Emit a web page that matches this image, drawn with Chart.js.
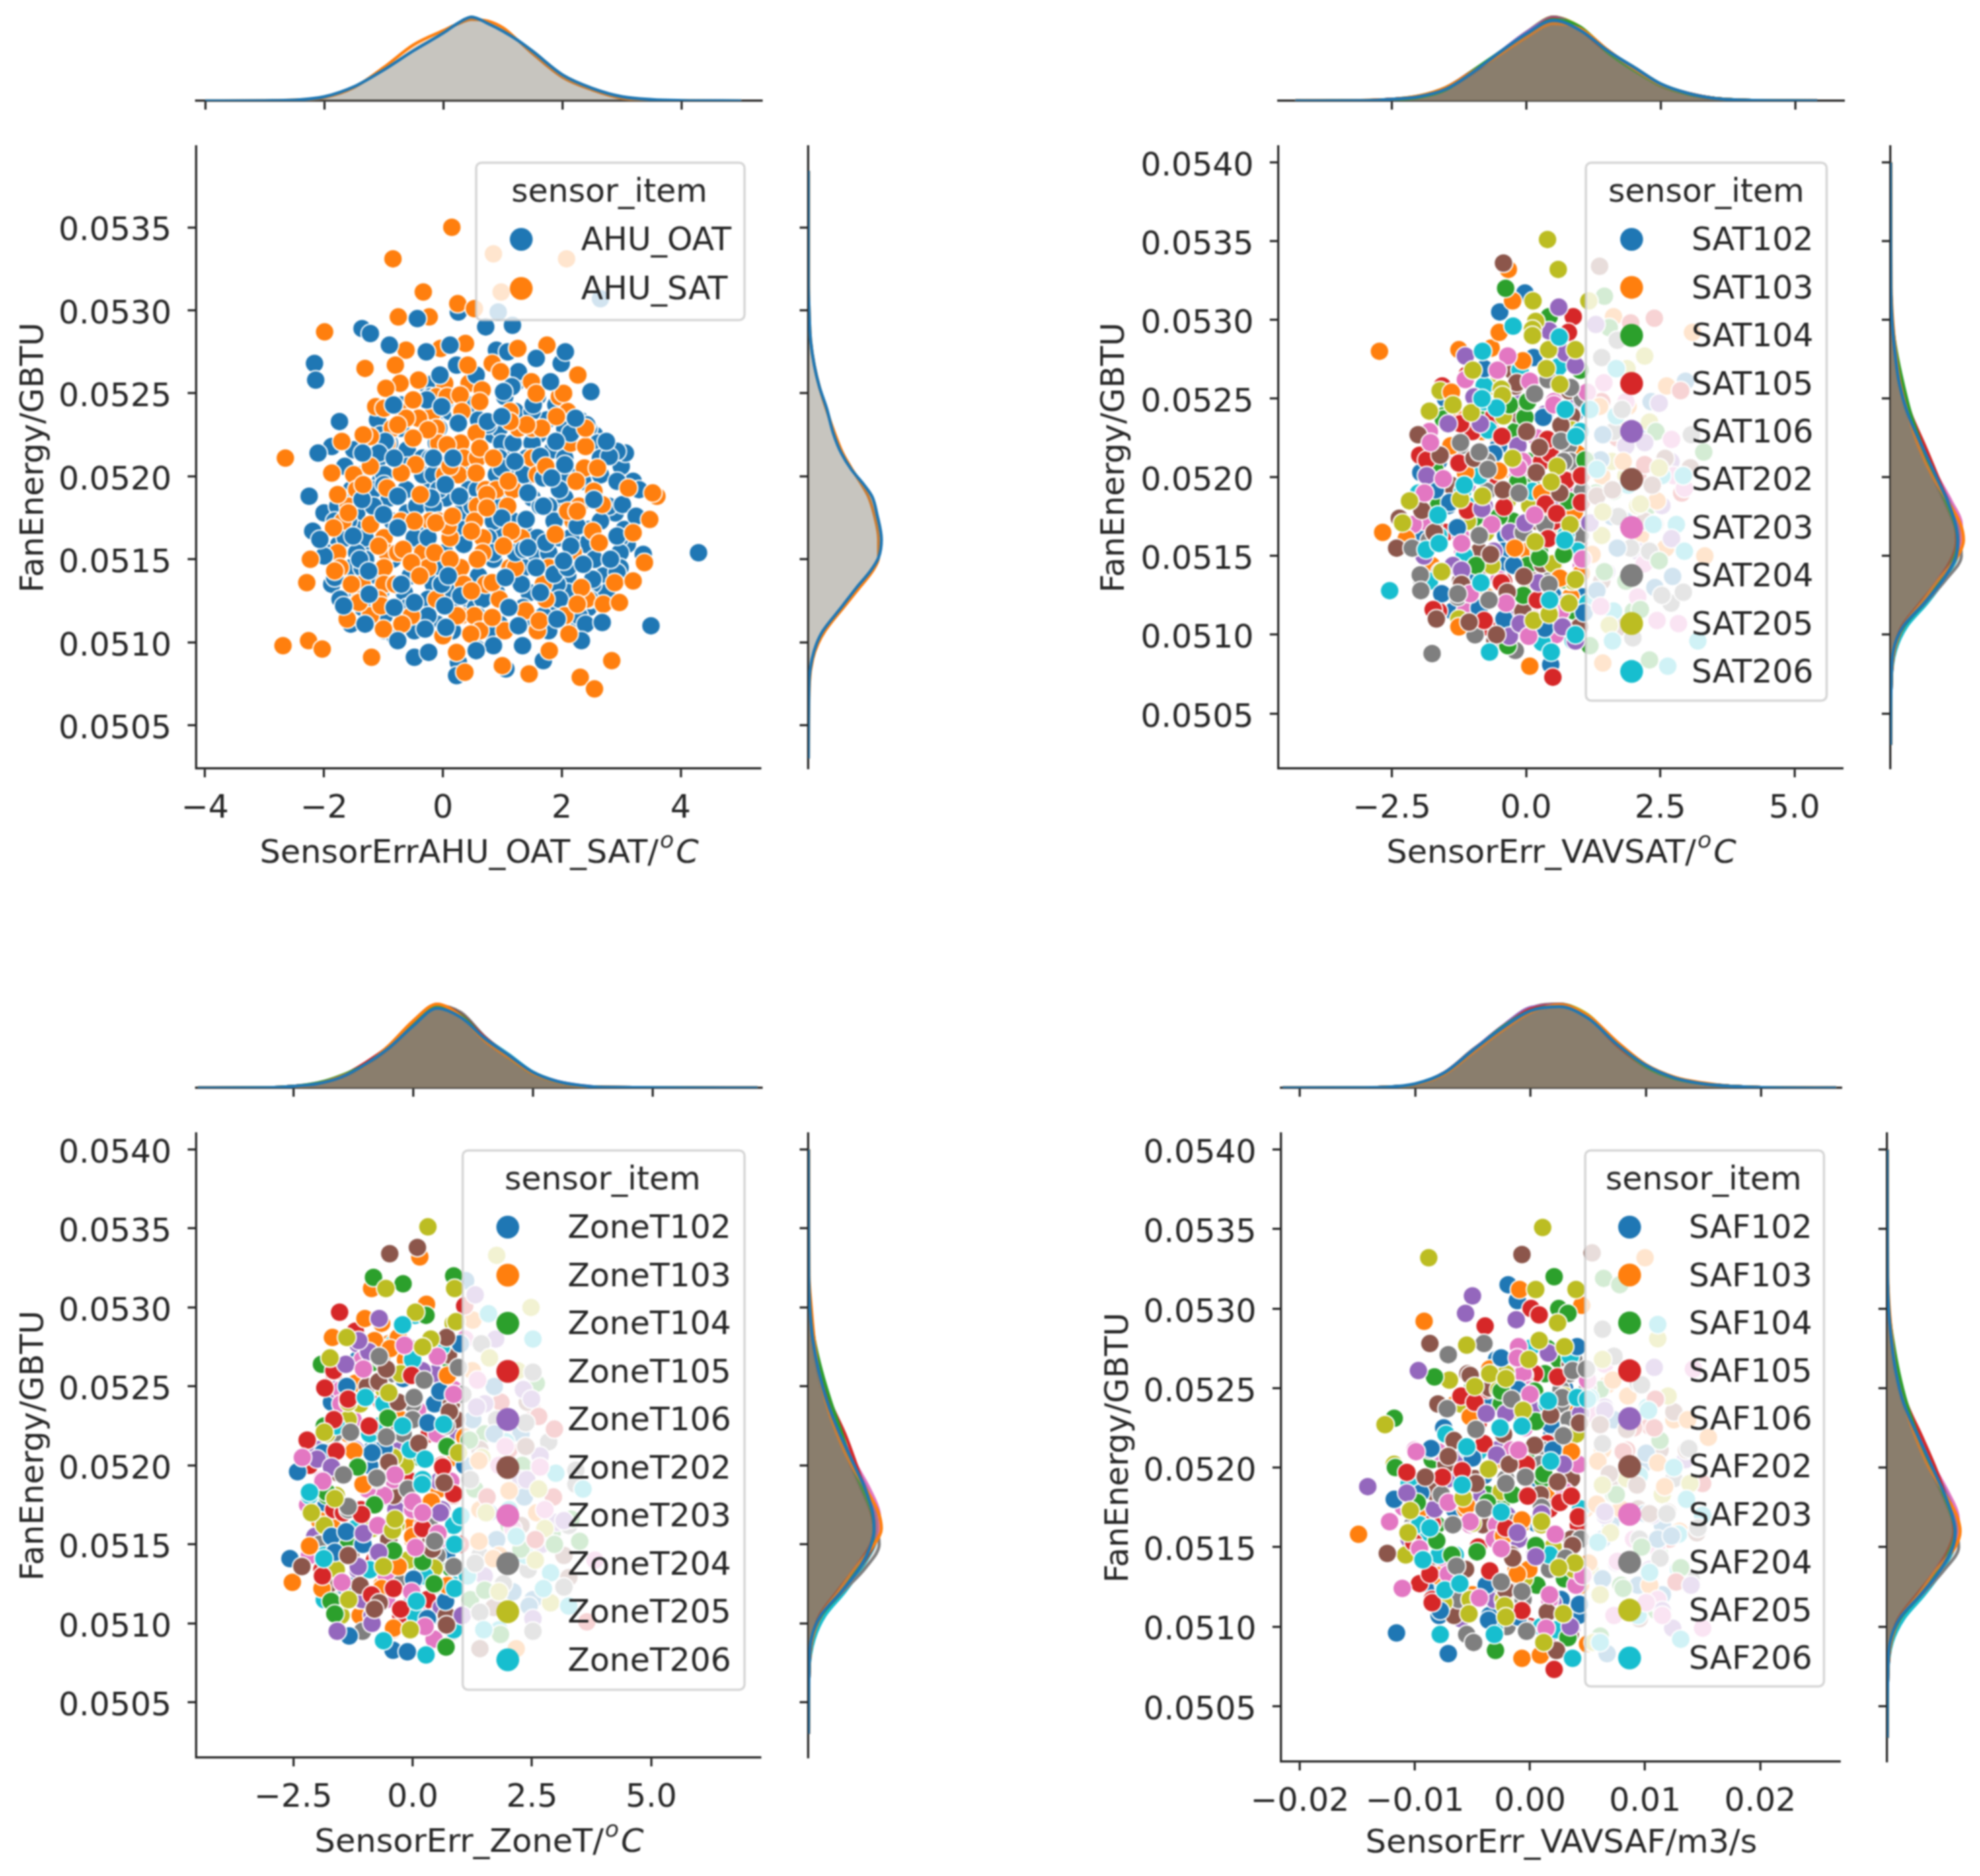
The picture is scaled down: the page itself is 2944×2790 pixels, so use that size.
<!DOCTYPE html>
<html>
<head>
<meta charset="utf-8">
<script src="https://cdn.jsdelivr.net/npm/chart.js@4/dist/chart.umd.min.js"></script>
<style>
  html, body { margin: 0; padding: 0; background: #fff; }
  body { position: relative; width: 2944px; height: 2790px; overflow: hidden; }
  canvas { position: absolute; filter: blur(1.1px); }
</style>
</head>
<body>
<script>
// all FanEnergy values below are in 1e-5 GBTU
const colors = ['#1f77b4', '#ff7f0e', '#2ca02c', '#d62728', '#9467bd', '#8c564b', '#e377c2', '#7f7f7f', '#bcbd22', '#17becf'];
const yTicks = [0.0505, 0.051, 0.0515, 0.052, 0.0525, 0.053, 0.0535, 0.054];

const xTicks1 = [-4, -2, 0, 2, 4];
const xLabels1 = ['−4', '−2', '0', '2', '4'];
const xTicks2 = [-2.5, 0, 2.5, 5];
const xLabels2 = ['−2.5', '0.0', '2.5', '5.0'];
const xTicks3 = [-2.5, 0, 2.5, 5];
const xLabels3 = ['−2.5', '0.0', '2.5', '5.0'];
const xTicks4 = [-0.02, -0.01, 0, 0.01, 0.02];
const xLabels4 = ['−0.02', '−0.01', '0.00', '0.01', '0.02'];

// panel 1, drawn in layers so the two colours interleave
const AHU_OAT_back = [[.26,5299],[-1.36,5289],[.9,5276],[1.09,5275],[.23,5267],[1.99,5268],[1.27,5263],[.56,5261],[-.27,5246],[1.16,5254],[1.52,5243],[.76,5231],[2.42,5231],[2.15,5226],[-.97,5221],[-1.87,5218],[3.07,5214],[2.93,5215],[2.8,5212],[-1.08,5214],[-.16,5211],[.99,5205],[2.05,5207],[1.64,5212],[1.69,5199],[2.93,5197],[3.3,5192],[-1.36,5186],[-.2,5187],[3.02,5183],[-2.19,5167],[1.69,5182],[3.25,5176],[.99,5175],[-.25,5163],[-1.4,5150],[-2,5152],[1.73,5160],[2.15,5158],[2.26,5170],[2.93,5164],[3.37,5153],[2.93,5142],[-.02,5135],[-1.82,5139],[1.22,5154],[1.87,5141],[2.52,5138],[2.1,5145],[2.4,5111],[2.33,5101],[-.48,5091],[.26,5088],[.58,5096],[1.69,5089],[.23,5080],[-.8,5103],[1.06,5084],[.85,5098],[.3,5128],[1.36,5156],[-.99,5195]];
const AHU_SAT = [[.15,5350],[-.84,5331],[-.33,5311],[.25,5304],[.53,5301],[-.75,5296],[-.23,5296],[-1.99,5287],[-.62,5276],[.38,5280],[-.04,5277],[1.26,5277],[1.75,5279],[-.8,5267],[-1.31,5265],[.42,5267],[.83,5268],[.97,5263],[2.27,5261],[-.41,5258],[-.72,5256],[-.96,5253],[-.5,5246],[1.49,5257],[1.57,5250],[2.03,5250],[.66,5252],[.29,5249],[.62,5245],[-1.13,5242],[-.99,5241],[.32,5239],[-.41,5235],[-.62,5235],[-.25,5228],[-.76,5231],[1.91,5236],[1.66,5229],[1.41,5231],[1.13,5233],[.56,5226],[-.5,5223],[-1.22,5224],[-1.34,5225],[-1.7,5221],[.07,5219],[.62,5217],[2.4,5218],[2.4,5229],[-2.65,5211],[-.46,5207],[-1.22,5206],[.85,5211],[.12,5206],[.56,5202],[1.73,5206],[2.38,5205],[2.6,5205],[-.7,5202],[-1.87,5202],[-1.34,5195],[1.1,5197],[-.94,5193],[-1.77,5189],[-.38,5189],[2.24,5197],[2.54,5191],[3.12,5193],[3.6,5188],[3.53,5190],[.74,5189],[.74,5181],[2.1,5179],[2.26,5179],[2.68,5183],[3.48,5174],[-1.59,5178],[-.48,5173],[.09,5170],[-.12,5172],[.16,5176],[-1.22,5171],[-1.84,5169],[.48,5167],[1.15,5167],[1.89,5165],[3.2,5166],[2.52,5167],[2.63,5160],[1.02,5158],[-1.08,5158],[-.67,5156],[-.14,5154],[-.53,5148],[-2.23,5150],[-1.82,5143],[.12,5150],[.58,5150],[3.39,5148],[-1.54,5135],[-2.29,5136],[-.39,5140],[.83,5136],[.48,5131],[2.33,5133],[2.89,5136],[3.2,5137],[2.26,5123],[2.7,5123],[2.97,5124],[1.39,5119],[-1.04,5122],[-1.41,5124],[.83,5115],[1.62,5113],[.24,5116],[-1.61,5114],[-1,5108],[-.69,5111],[.47,5105],[2.12,5105],[-2.69,5098],[-2.26,5101],[-2.03,5096],[-1.2,5091],[.23,5094],[1.79,5095],[1,5086],[.37,5082],[1.45,5081],[2.84,5089],[2.31,5079],[2.55,5072],[.85,5334],[2.08,5331],[.98,5311],[0,5104]];
const AHU_OAT_front = [[2.65,5307],[.93,5299],[-.43,5295],[.72,5290],[1.17,5291],[-1.22,5286],[-.9,5279],[-.28,5275],[.12,5279],[2.06,5275],[1.57,5271],[-2.16,5268],[-2.14,5258],[-.05,5261],[1.81,5257],[2.49,5251],[1.02,5251],[-.83,5243],[-.02,5242],[-1.74,5233],[.26,5232],[.75,5233],[.99,5236],[2.23,5235],[1.9,5221],[2.75,5221],[-2.1,5214],[-1.35,5214],[-.82,5211],[.17,5211],[1.21,5209],[1.83,5199],[.04,5195],[-2.25,5188],[-.76,5188],[.28,5188],[1.43,5190],[2.54,5186],[-1,5177],[1.4,5174],[-.76,5169],[-2.07,5162],[-1.51,5164],[1.43,5157],[2.03,5149],[2.82,5150],[-1.25,5143],[1.57,5145],[2.36,5147],[1.05,5139],[.09,5140],[-.7,5135],[-1.24,5129],[1.64,5130],[-.48,5124],[-1.67,5122],[-.82,5121],[.03,5122],[1.11,5121],[-1.31,5111],[-.3,5108],[.05,5109],[1.27,5110],[1.92,5114],[2.68,5112],[3.5,5110],[1.34,5098],[-.76,5101],[.56,5095],[-.24,5094],[4.3,5154]];
const AHU_OAT_under = [[-.3,5256],[-.16,5256],[.49,5256],[1.22,5256],[-.21,5248],[1.04,5248],[1.59,5248],[.12,5239],[1.22,5239],[1.5,5239],[-.71,5229],[-.07,5229],[.95,5229],[2.05,5229],[2.45,5229],[-.9,5220],[-.11,5220],[.99,5220],[1.18,5220],[1.5,5220],[2.15,5220],[2.61,5220],[-1.08,5211],[-.34,5211],[-.21,5211],[.95,5211],[1.41,5211],[2.05,5211],[2.65,5211],[-1.4,5201],[-.99,5201],[-.34,5201],[-.16,5201],[.9,5201],[1.36,5201],[2.1,5201],[2.65,5201],[-1.54,5192],[-1.17,5192],[-.62,5192],[-.07,5192],[.44,5192],[.58,5192],[1.96,5192],[-1.77,5182],[-1.17,5182],[-.44,5182],[-.16,5182],[.49,5182],[.9,5182],[1.64,5182],[1.78,5182],[2.79,5182],[-1.82,5173],[-1.59,5173],[-.85,5173],[.85,5173],[1.18,5173],[1.87,5173],[2.65,5173],[-1.64,5163],[-1.31,5163],[-.48,5163],[.12,5163],[.76,5163],[1.59,5163],[1.96,5163],[2.15,5163],[2.98,5163],[-1.96,5154],[-1.45,5154],[-.9,5154],[.03,5154],[.85,5154],[1.22,5154],[1.5,5154],[1.78,5154],[2.98,5154],[-1.54,5145],[-1.36,5145],[-.07,5145],[.21,5145],[1.36,5145],[1.87,5145],[2.1,5145],[2.98,5145],[-1.87,5135],[-.16,5135],[-.02,5135],[1.32,5135],[1.92,5135],[2.52,5135],[-1.73,5126],[-.25,5126],[.67,5126],[1.96,5126],[2.47,5126],[-.99,5116],[-.25,5116],[.58,5116],[1.69,5116],[2.29,5116],[-.99,5107],[-.48,5107],[.16,5107],[.76,5107],[1.78,5107]];
const AHU_SAT_under = [[.03,5256],[.44,5256],[-.11,5248],[.07,5248],[1.96,5248],[-.67,5239],[-.16,5239],[.3,5239],[1.13,5239],[2.1,5239],[-.85,5229],[-.11,5229],[1.27,5229],[1.5,5229],[-.94,5220],[-.07,5220],[.3,5220],[2.15,5220],[.35,5211],[.58,5211],[1.5,5211],[-1.5,5201],[.03,5201],[.26,5201],[1.59,5201],[-1.45,5192],[.72,5192],[.9,5192],[1.18,5192],[-1.59,5182],[.58,5182],[1.09,5182],[2.29,5182],[-1.68,5173],[-.71,5173],[-.21,5173],[-.07,5173],[.53,5173],[2.19,5173],[-.99,5163],[.12,5163],[.67,5163],[1.32,5163],[-1.77,5154],[-.94,5154],[-.76,5154],[-.34,5154],[.67,5154],[2.19,5154],[-1.73,5145],[-.99,5145],[-.25,5145],[.3,5145],[1.13,5145],[1.22,5145],[1.78,5145],[-1.36,5135],[-.99,5135],[-.8,5135],[.35,5135],[.72,5135],[1.69,5135],[-1.4,5126],[-1.08,5126],[-.11,5126],[.95,5126],[1.73,5126],[2.42,5126],[-1.22,5116],[-.53,5116],[.3,5116],[.53,5116],[2.05,5116],[.03,5107],[.62,5107],[1.04,5107],[1.59,5107]];
const AHU_OAT_hidden = [[-.7,5243],[.5,5243],[1.9,5243],[-1.1,5234],[-.1,5234],[.6,5234],[1.75,5234],[2.3,5234],[-1.05,5225],[-.1,5225],[.85,5225],[1.6,5225],[2.55,5225],[-1.5,5216],[-.6,5216],[.3,5216],[1.05,5216],[1.85,5216],[-1.65,5206],[-.6,5206],[.3,5206],[1.1,5206],[1.45,5206],[3,5206],[-1.05,5197],[-.2,5197],[.5,5197],[1.35,5197],[2.35,5197],[3.2,5197],[-1.55,5187],[-.9,5187],[.05,5187],[.9,5187],[1.5,5187],[2.05,5187],[-2,5178],[-1.45,5178],[-.6,5178],[.3,5178],[1.05,5178],[2,5178],[2.9,5178],[-1.45,5168],[-.3,5168],[.35,5168],[.95,5168],[1.35,5168],[2.45,5168],[3.05,5168],[-1.75,5159],[-1.25,5159],[-.4,5159],[.35,5159],[1.1,5159],[2.4,5159],[3.1,5159],[-1.3,5150],[-.85,5150],[-.25,5150],[.85,5150],[1.7,5150],[2.55,5150],[-1.55,5140],[-1.1,5140],[-.55,5140],[.6,5140],[1.25,5140],[2.1,5140],[2.7,5140],[-1.5,5130],[-1.05,5130],[-.65,5130],[.1,5130],[.9,5130],[1.45,5130],[2.1,5130],[2.75,5130],[-1.35,5121],[-.6,5121],[.3,5121],[.55,5121],[1.35,5121],[1.8,5121],[2.45,5121],[-1.55,5111],[-.55,5111],[-.1,5111],[.95,5111],[1.5,5111],[2.1,5111]];

// panel 2
const SAT102 = [[-.02,5317],[-.49,5305],[.14,5276],[.32,5238],[-1.96,5203],[-1.69,5192],[-1.42,5184],[-1.28,5168],[-.23,5144],[-1.57,5126],[-.41,5110],[.35,5104],[.46,5081],[1.43,5227],[1.39,5211],[2.33,5248],[2.97,5261],[1.7,5155],[2.73,5137],[1.32,5128],[1.08,5114],[-.87,5117],[-.78,5269]];
const SAT103 = [[-2.73,5280],[-1.25,5281],[-.33,5332],[-.25,5312],[-.5,5292],[-.06,5274],[-1.39,5254],[-.51,5204],[.29,5190],[-2.67,5165],[-2.23,5161],[-.21,5155],[.63,5136],[1.03,5139],[-1.25,5105],[.07,5080],[.9,5178],[-1.13,5203],[-1.4,5220],[1.63,5302],[1.37,5245],[2.62,5258],[1.81,5210],[2.44,5185],[3.1,5292],[3.33,5150],[1.43,5082],[1.23,5151]];
const SAT104 = [[-.38,5320],[.43,5302],[-.02,5238],[-.31,5246],[.03,5248],[1.1,5211],[-.15,5197],[.79,5185],[-.93,5144],[.25,5149],[.7,5151],[-.05,5125],[-.34,5093],[1.46,5315],[1.55,5295],[3.31,5216],[2.48,5147],[1.46,5140],[2.3,5084],[2.13,5116],[1.19,5093],[2.42,5229],[-1.54,5237]];
const SAT105 = [[.88,5302],[-1.22,5234],[-.45,5226],[.4,5224],[-1.25,5209],[-1.98,5214],[-1.85,5211],[.74,5198],[1.03,5201],[-.41,5181],[.36,5183],[.57,5177],[-1.09,5179],[.41,5161],[-.46,5133],[-.78,5109],[-1.73,5116],[.5,5073],[1.03,5184],[2.39,5301],[1.95,5298],[2.88,5255],[2.21,5208],[.79,5292],[.21,5122]];
const SAT106 = [[.61,5308],[.43,5293],[-1.13,5277],[.74,5279],[.92,5271],[-.97,5251],[-1.45,5234],[-.85,5234],[-.02,5171],[-1.36,5144],[.23,5133],[.68,5105],[-.31,5099],[1.19,5171],[1.3,5297],[2.71,5161],[-.82,5180],[-1.2,5141],[-.11,5107],[.92,5096],[2.21,5222],[2.48,5247],[-1.85,5201]];
const SAT202 = [[-.42,5336],[-.17,5260],[-2.01,5227],[-1.6,5214],[-.97,5212],[.01,5229],[.65,5233],[.25,5219],[.19,5203],[-.43,5192],[.63,5190],[-1.94,5179],[-2.36,5174],[-1.71,5165],[-2.41,5155],[-.66,5151],[-.04,5137],[-.35,5127],[-1.2,5132],[-1.67,5110],[-1.06,5108],[-.55,5100],[1.37,5334],[2.59,5212],[1.32,5188],[1.61,5192],[2.35,5195],[3.06,5206]];
const SAT203 = [[-.34,5277],[-.53,5268],[-1.13,5262],[.07,5261],[1.14,5254],[.52,5246],[-1.54,5199],[-1.89,5190],[-1.78,5222],[-.15,5206],[-.64,5170],[-1.2,5158],[-1.04,5126],[-.37,5120],[.05,5099],[.16,5176],[1.05,5148],[2.71,5224],[2.95,5193],[1.39,5118],[2.84,5107],[2.44,5109]];
const SAT204 = [[.41,5262],[.16,5253],[.83,5257],[-1.22,5222],[-.87,5216],[-.71,5205],[-.13,5190],[-.87,5163],[-2.12,5155],[-1.97,5138],[-.69,5122],[-1.75,5088],[1.41,5276],[1.7,5287],[1.79,5243],[3.08,5227],[2.53,5125],[2.93,5127],[1.99,5098],[-1.96,5128],[.65,5223],[-1.27,5126],[.43,5132],[1.72,5175]];
const SAT205 = [[.4,5351],[.6,5332],[.13,5312],[.18,5299],[.12,5294],[.12,5290],[.42,5281],[.92,5281],[.38,5269],[.63,5259],[-.99,5268],[-1.8,5242],[-1.36,5246],[-1.02,5241],[-.46,5256],[-.44,5252],[-.25,5212],[.58,5207],[.47,5197],[-2.17,5185],[-.81,5188],[-1.22,5186],[-2.3,5171],[.82,5170],[.17,5159],[-1.57,5140],[.92,5135],[.8,5120],[.14,5109],[.43,5113],[1.17,5312],[2.21,5277],[1.88,5269],[2.13,5183],[1.55,5106],[1.43,5178],[2.48,5206]];
const SAT206 = [[-.24,5296],[.62,5289],[-.81,5280],[-.55,5244],[.73,5243],[.93,5226],[-1.15,5195],[-1.64,5176],[-1.86,5154],[-1.62,5158],[-.84,5133],[.44,5122],[-2.54,5128],[-.68,5089],[.47,5089],[.72,5160],[1.32,5205],[2.93,5201],[2.37,5170],[2.95,5153],[3.2,5096],[2.64,5080],[1.61,5096],[1.68,5269],[1.19,5243],[.92,5100],[-.82,5250]];
// partly hidden markers of panel 2, seen only as crescents
const SAT102_b = [[-.75,5268],[-.51,5220],[-1.63,5210],[-1.71,5191],[-1.45,5182],[-1.98,5163],[-.38,5163],[-.42,5153],[-.46,5144],[-.73,5124],[1.05,5124],[-1.36,5115],[-.42,5105],[.07,5258],[1.63,5210],[1.86,5172],[2.08,5229],[-1.5,5250],[-.6,5215],[.2,5180],[.9,5240],[-1,5140],[.5,5125],[1.6,5175],[2.4,5130],[-.2,5270]];
const SAT103_b = [[-.64,5229],[-.82,5229],[-1.4,5220],[-1.09,5201],[.29,5191],[.43,5172],[-.06,5163],[.03,5153],[1.05,5153],[-1.76,5144],[.52,5144],[-.73,5124],[.83,5124],[1.01,5105],[1.81,5229],[2.13,5163],[1.41,5201],[-1.2,5238],[-.3,5205],[.6,5165],[-1.7,5180],[-.1,5118],[.95,5215],[1.9,5245],[2.6,5155],[-.65,5282]];
const SAT104_b = [[1.01,5268],[-.06,5248],[-.29,5239],[-1.54,5239],[-.2,5229],[.52,5220],[.05,5210],[-.15,5201],[-1.63,5182],[-.87,5172],[-.24,5172],[.25,5153],[-1.36,5144],[.03,5144],[.83,5134],[.9,5115],[-.33,5096],[1.63,5191],[2.3,5182],[1.86,5134],[-1.7,5205],[-.9,5240],[.1,5195],[.7,5135],[-1.3,5125],[.4,5262],[1.3,5190],[2,5115],[-.5,5175]];
const SAT105_b = [[-1.56,5258],[-.6,5239],[-1.09,5210],[.29,5210],[-.6,5201],[.96,5172],[-.42,5134],[.16,5124],[-1.63,5115],[-.73,5105],[1.41,5248],[2.08,5201],[-1,5229],[.52,5172],[-.5,5250],[-1.5,5165],[.45,5215],[-.7,5145],[.15,5110],[1,5160],[1.7,5225],[2.9,5190],[-1.1,5265]];
const SAT106_b = [[-.17,5258],[-.15,5248],[.88,5248],[-.15,5220],[-1.85,5201],[-.78,5182],[-1.13,5144],[-.6,5153],[-.11,5115],[-.11,5105],[.88,5096],[1.86,5220],[2.53,5182],[2.08,5153],[-1.1,5195],[.35,5240],[-.3,5165],[-1.9,5150],[.75,5120],[.6,5185],[1.5,5140],[2.7,5210],[-.9,5120]];
const SAT202_b = [[-.26,5268],[-.2,5258],[.85,5239],[-.87,5210],[.96,5201],[.65,5191],[-1.71,5172],[.21,5172],[.92,5163],[-.87,5153],[-.73,5144],[-1.22,5134],[.16,5134],[-.33,5124],[-.06,5115],[-1.27,5105],[-.58,5096],[2.21,5172],[1.41,5134],[-1.4,5195],[-.65,5265],[.3,5145],[-.15,5240],[1,5105],[-1.6,5140],[1.75,5105],[2.4,5170],[.8,5255]];
const SAT203_b = [[-1.8,5229],[.52,5248],[-.06,5210],[-.15,5201],[-1.94,5191],[.16,5182],[.96,5182],[-1.89,5172],[-1.22,5163],[-1.18,5153],[1.03,5144],[-1.13,5115],[.65,5115],[1.86,5248],[2.75,5201],[2.08,5124],[-.38,5248],[-.85,5200],[.2,5225],[-1.55,5215],[-.5,5135],[.55,5100],[-2.1,5170],[1.45,5260],[2.2,5145],[.95,5195]];
const SAT204_b = [[-.69,5248],[.65,5229],[-1.22,5220],[.79,5220],[-.73,5210],[.83,5210],[1.05,5191],[1.01,5163],[-1.94,5134],[.43,5134],[-1.27,5124],[-.38,5105],[1.63,5229],[2.3,5153],[-.73,5191],[-1.8,5160],[-.05,5165],[.7,5210],[-.95,5100],[-.2,5090],[1.05,5250],[1.95,5155],[2.7,5120],[.35,5170]];
const SAT205_b = [[-.6,5258],[-.42,5239],[.88,5134],[.43,5115],[-1.09,5172],[.07,5182],[1.86,5201],[1.41,5163],[2.08,5182],[1.23,5210],[-.64,5144],[-1.6,5255],[-.35,5185],[.5,5145],[-1.25,5110],[.05,5130],[.85,5230],[1.6,5210],[2.3,5235],[-.75,5165]];
const SAT206_b = [[-.11,5268],[-.78,5258],[-.78,5248],[1.01,5229],[-.87,5201],[-1.18,5191],[.12,5191],[-1.09,5182],[-1.63,5163],[.74,5163],[.96,5153],[-1.8,5134],[.88,5096],[1.68,5239],[2.53,5201],[1.63,5115],[-2,5190],[-.7,5230],[.05,5275],[-1.15,5150],[.3,5095],[.6,5270],[1.15,5120],[1.9,5195],[2.8,5170]];

// panel 3
const ZoneT102 = [[.57,5247],[.32,5227],[-.6,5211],[-1.88,5208],[-2.41,5196],[-.85,5208],[1,5277],[-1.38,5250],[-2.57,5141],[-1.7,5155],[-1.39,5158],[-1.04,5150],[-1.63,5145],[.02,5128],[.69,5114],[.31,5103],[-1.33,5092],[-.41,5083],[-.11,5082],[1.71,5250],[1.71,5220],[1.09,5200],[2.34,5180],[2.44,5111],[1.11,5317]];
const ZoneT103 = [[.15,5332],[-.86,5312],[.29,5302],[-1,5293],[-1.68,5281],[-.8,5279],[-.3,5281],[-.47,5274],[.73,5257],[-1.23,5209],[-1.04,5188],[.39,5177],[-2.16,5149],[-.3,5136],[-2.52,5126],[-1.9,5122],[-.65,5122],[-.4,5097],[0,5155],[1.26,5292],[1.39,5203],[1.39,5152],[1.69,5141],[2.02,5184],[2.17,5084],[1.09,5218],[.73,5124]];
const ZoneT104 = [[-.82,5319],[-.2,5315],[.86,5320],[.28,5295],[-1.91,5264],[-.52,5230],[.72,5212],[-1.15,5199],[-1.8,5183],[-.8,5175],[.21,5139],[-.4,5146],[.45,5125],[-1.71,5114],[-1.63,5106],[.7,5085],[3.32,5166],[3.5,5152],[2.27,5147],[1.51,5121],[1.84,5093],[2.59,5252],[1.19,5216],[2.97,5150]];
const ZoneT105 = [[-1.53,5297],[-1.84,5249],[-1.65,5260],[-.02,5257],[-1.35,5242],[-.91,5225],[-1.65,5229],[-2.21,5216],[-1.6,5209],[.63,5199],[.86,5182],[-1.07,5169],[-1.89,5130],[-.86,5118],[-.25,5109],[-.4,5122],[.21,5160],[2.97,5223],[2.64,5231],[1.56,5180],[2.57,5153],[3.65,5101],[1.09,5301]];
const ZoneT106 = [[-.7,5293],[-.92,5272],[-1.4,5264],[-1.13,5279],[-2,5204],[-1.7,5199],[.58,5170],[-1.14,5136],[-.71,5145],[-1.58,5095],[-.85,5100],[-1.03,5157],[1.31,5308],[1.74,5280],[1.34,5237],[2.32,5248],[2.49,5242],[2.67,5206],[3.17,5165],[1.04,5105],[2.52,5103],[2.39,5191]];
const ZoneT202 = [[-.48,5334],[.1,5338],[.71,5281],[-.71,5253],[-.3,5240],[.77,5234],[.13,5214],[-.5,5202],[.66,5189],[-2.32,5136],[-1.35,5143],[1.41,5084],[2.37,5212],[3.27,5129],[-.7,5113],[-.8,5109],[.71,5099],[-.55,5261],[.41,5147]];
const ZoneT203 = [[-.17,5276],[.52,5269],[-1.03,5261],[.86,5245],[-2.31,5205],[-.37,5194],[-1.88,5190],[0,5177],[-.73,5162],[.53,5157],[.06,5148],[.21,5170],[-1.48,5126],[-.02,5120],[1.36,5254],[1.94,5212],[2.67,5199],[3.82,5140],[.26,5098]];
const ZoneT204 = [[-.7,5269],[.24,5254],[.03,5243],[-1.3,5221],[-.55,5218],[-1.45,5194],[-.75,5192],[-1.35,5174],[.96,5262],[.86,5136],[.46,5152],[2.52,5259],[1.44,5277],[2.37,5227],[3.42,5197],[3.42,5188],[1.31,5138],[1.41,5107],[2.52,5095],[3.17,5123],[1.21,5191]];
const ZoneT205 = [[.32,5351],[-.56,5312],[.88,5312],[.06,5297],[.91,5291],[-1.38,5281],[-1.73,5268],[.38,5280],[-.5,5246],[-1.63,5179],[-2.12,5170],[-.42,5159],[-.61,5136],[-1.34,5115],[-.37,5166],[-.05,5096],[1.76,5333],[2.48,5300],[1.61,5268],[1.54,5170],[2.57,5140],[2.89,5113],[1.81,5120],[.21,5275],[-1.85,5221],[.96,5208],[2.64,5185]];
const ZoneT206 = [[-.21,5289],[-.99,5243],[-.21,5225],[.65,5226],[.26,5204],[.2,5188],[-2.16,5183],[-1.86,5141],[.88,5150],[.88,5122],[-.61,5089],[.28,5080],[.08,5114],[2.52,5280],[1.59,5296],[2.17,5155],[2.89,5132],[2.74,5122],[3.27,5111],[1.49,5096],[3.57,5185],[1.01,5168]];
const ZoneT102_b = [[-1.15,5267],[.61,5248],[.46,5239],[-1.9,5210],[-.85,5210],[-1.9,5172],[-1.7,5153],[-1.05,5153],[.71,5143],[-.9,5134],[-1.25,5124],[.71,5115],[0,5115],[.26,5105],[.51,5105],[1.26,5229],[1.76,5153],[2.27,5220],[2.52,5115],[-1.7,5240],[-.9,5200],[.1,5170],[.7,5260],[-1.4,5120],[.35,5140],[1.6,5170],[2.1,5120],[-.2,5255]];
const ZoneT103_b = [[-.8,5277],[-.5,5277],[-.15,5267],[.73,5258],[-.25,5229],[-1.35,5220],[-1.25,5210],[-1.7,5162],[0,5162],[0,5153],[-.3,5134],[-1.9,5124],[-.65,5124],[.71,5124],[-1.1,5105],[-.4,5096],[1.41,5172],[2.02,5200],[1.81,5143],[-1.2,5252],[-.25,5215],[.55,5185],[-1.95,5165],[-.05,5125],[.85,5205],[1.25,5260],[2.6,5170],[-.65,5290]];
const ZoneT104_b = [[.76,5267],[-.55,5239],[-.55,5229],[.91,5210],[-1.15,5200],[-.05,5191],[-1.8,5181],[-1.35,5153],[-.45,5143],[.21,5134],[.46,5124],[-1.7,5115],[1.51,5220],[2.02,5162],[2.92,5157],[1.21,5115],[-1.85,5225],[-.85,5265],[.15,5205],[.8,5135],[-1.1,5115],[.4,5280],[1.3,5185],[2.3,5200],[-.5,5180]];
const ZoneT105_b = [[-1.65,5258],[-1.4,5248],[-1.65,5229],[-2.16,5200],[.61,5200],[-.1,5191],[.86,5181],[-1.65,5172],[-1.08,5172],[.21,5162],[-1.9,5134],[.41,5134],[-.4,5124],[-.85,5115],[.31,5115],[-.25,5105],[2.02,5210],[2.57,5233],[-.65,5240],[-1.45,5170],[.35,5220],[-.8,5140],[.15,5100],[1,5150],[1.85,5240],[2.95,5180],[-1.2,5285]];
const ZoneT106_b = [[-1.15,5277],[.46,5258],[-1.6,5248],[.96,5220],[-2,5210],[-.3,5210],[-1.7,5200],[-.15,5181],[-.35,5172],[.61,5172],[-.72,5143],[-1.15,5134],[-.85,5105],[-1.58,5096],[1.51,5239],[2.27,5191],[3.02,5164],[-1.2,5210],[.2,5260],[-.4,5165],[-2.05,5155],[.6,5110],[.55,5190],[1.5,5130],[2.7,5150],[-1.05,5115]];
const ZoneT202_b = [[-.5,5258],[.81,5239],[.91,5229],[-.45,5220],[-.5,5200],[.66,5191],[-.4,5181],[-.5,5153],[-1.3,5143],[-1.1,5124],[.71,5105],[2.27,5162],[1.41,5210],[3.17,5143],[-1.55,5195],[-.95,5250],[.25,5155],[-.1,5275],[.85,5095],[-1.75,5125],[1.7,5110],[2.4,5240],[.75,5270]];
const ZoneT203_b = [[-1.05,5267],[-1.5,5248],[.86,5248],[-1.5,5239],[-1.25,5229],[.51,5220],[-1.9,5191],[-.4,5191],[-.6,5181],[0,5172],[.26,5172],[-.75,5162],[.56,5153],[-2.16,5143],[0,5124],[-.55,5115],[.16,5105],[1.81,5200],[2.67,5200],[2.77,5172],[-.95,5185],[.1,5235],[-1.75,5205],[-.55,5130],[.45,5090],[-2.2,5175],[1.1,5280],[2.1,5160],[.8,5190]];
const ZoneT204_b = [[-.65,5267],[-.45,5258],[0,5239],[0,5229],[-1.65,5220],[-.2,5220],[-.75,5191],[-1.35,5172],[.46,5153],[.51,5143],[1.76,5229],[2.42,5134],[1.41,5143],[3.27,5162],[-1.95,5150],[-.1,5185],[.7,5225],[-1.05,5095],[-.25,5125],[1.05,5245],[1.9,5125],[2.85,5215],[.35,5165]];
const ZoneT205_b = [[-.25,5258],[-.6,5248],[-1.1,5239],[-1.35,5229],[-1.8,5220],[.96,5210],[-.15,5200],[-1.6,5181],[-1.85,5162],[-.35,5162],[-1.6,5134],[-1.35,5115],[-.05,5096],[2.02,5229],[2.77,5160],[-1.35,5240],[-.4,5205],[.45,5135],[-1.5,5105],[-.1,5140],[.85,5290],[1.45,5205],[2.2,5260],[-.85,5160]];
const ZoneT206_b = [[-.4,5277],[0,5267],[-.6,5239],[-.9,5220],[-.05,5210],[.21,5191],[-2.16,5181],[.86,5162],[-1.85,5143],[-.9,5134],[.88,5124],[-1.85,5115],[.06,5105],[.86,5096],[2.02,5172],[2.37,5143],[1.81,5096],[-1.6,5225],[-.7,5225],[.05,5295],[-1.2,5160],[.25,5130],[.6,5275],[1.15,5130],[1.95,5215],[3,5195]];

// panel 4
const SAF102 = [[-.0019,5315],[-.0011,5305],[.0041,5276],[-.0025,5269],[-.001,5249],[-.0086,5212],[.002,5211],[-.005,5206],[-.0118,5180],[-.0095,5184],[.0018,5227],[-.0116,5096],[-.0071,5083],[-.0078,5110],[-.0036,5104],[.0043,5114],[-.0038,5126],[-.001,5106],[.0101,5209],[.0063,5155],[.01,5171],[.0111,5155],[.0123,5157],[.0063,5130],[.0067,5083]];
const SAF103 = [[-.0092,5292],[-.0009,5312],[.0045,5302],[-.0149,5158],[-.0052,5232],[.0036,5210],[-.0055,5176],[-.0023,5157],[-.0001,5136],[-.0011,5133],[-.0007,5080],[.0009,5082],[-.0007,5167],[-.008,5132],[.01,5332],[.0072,5255],[.0059,5204],[.0111,5203],[.0137,5230],[.0155,5219],[.0117,5188],[.0058,5177],[.0051,5140],[.005,5089]];
const SAF104 = [[.0021,5320],[-.0118,5231],[-.0083,5257],[.0025,5300],[.0033,5297],[-.0025,5248],[.0004,5248],[.0005,5229],[.0012,5196],[-.0117,5200],[-.0098,5178],[-.0015,5183],[-.0081,5154],[-.0068,5145],[-.0046,5147],[.0005,5151],[.0029,5140],[.0033,5093],[-.003,5085],[-.0037,5178],[.0064,5319],[.0078,5315],[.0113,5217],[.0097,5150],[.0131,5137],[.0081,5124],[.0075,5183],[.0061,5094]];
const SAF105 = [[-.0039,5289],[.0001,5300],[.0008,5296],[.0024,5257],[-.006,5245],[-.0048,5241],[-.004,5215],[-.0003,5202],[-.0107,5197],[-.0059,5198],[-.0076,5194],[-.0002,5182],[.0026,5178],[.0036,5182],[-.0101,5153],[-.0096,5127],[-.0035,5135],[-.0007,5110],[-.0087,5133],[-.0085,5115],[.0021,5073],[-.0021,5162],[.0109,5243],[.0108,5225],[.0081,5210],[.0127,5128],[.0042,5169]];
const SAF106 = [[-.005,5308],[-.0056,5297],[-.0012,5293],[.0016,5272],[-.0097,5261],[-.0038,5234],[-.0021,5234],[-.0141,5188],[-.0107,5184],[-.0029,5208],[.001,5171],[.0029,5202],[.0044,5234],[-.0011,5159],[.0005,5144],[.0035,5100],[.0108,5263],[.0065,5236],[.0124,5099],[.014,5126],[.0065,5172],[.0115,5110]];
const SAF202 = [[-.0007,5334],[-.0087,5278],[-.0052,5258],[-.008,5240],[.0018,5233],[-.0066,5217],[.0004,5214],[-.0018,5202],[-.0091,5194],[-.0071,5207],[-.0047,5190],[.0024,5191],[-.0124,5146],[.0037,5151],[-.0015,5143],[-.0056,5136],[.0015,5109],[-.0021,5123],[.0054,5335],[.0043,5228],[.0061,5227],[.0136,5211],[.0104,5171],[.0093,5189],[.0069,5196],[.012,5172],[.0145,5159],[.0023,5085]];
const SAF203 = [[-.001,5276],[-.0011,5269],[0,5246],[-.0099,5210],[-.001,5211],[-.0071,5178],[-.0122,5166],[-.0052,5166],[.0022,5158],[-.0096,5149],[-.0025,5149],[-.0111,5124],[-.0044,5118],[.0017,5120],[.0014,5099],[-.0071,5133],[.0142,5262],[.005,5255],[.0076,5141],[.0101,5115],[.015,5099],[.0046,5132],[.0115,5107]];
const SAF204 = [[-.004,5278],[-.0071,5271],[-.0072,5237],[-.0016,5243],[-.0047,5224],[.0029,5220],[.0037,5261],[-.0021,5190],[-.0004,5194],[-.004,5174],[-.0067,5164],[-.0025,5128],[-.0007,5122],[-.0064,5138],[-.0003,5097],[-.0049,5090],[.0049,5262],[.0063,5287],[.0097,5252],[.0138,5212],[.0073,5270],[.0119,5171],[.0146,5162],[.0113,5143],[.0028,5244],[.0031,5143]];
const SAF205 = [[.0011,5351],[-.0088,5332],[.0005,5312],[-.0126,5227],[-.0055,5277],[-.0001,5268],[.0008,5280],[.0024,5291],[.004,5312],[.003,5276],[-.0035,5259],[-.0048,5251],[-.0036,5199],[-.0006,5236],[-.0021,5256],[-.0058,5181],[-.0104,5173],[-.0106,5159],[.001,5166],[.0039,5140],[.0029,5108],[-.0022,5113],[-.0021,5106],[-.0053,5108],[.0025,5137],[.0012,5090],[.0111,5281],[.0063,5268],[.0139,5190],[.007,5159],[.0061,5120],[.0055,5090],[.0063,5189]];
const SAF206 = [[.0016,5242],[.0041,5244],[-.0026,5225],[-.0007,5226],[.0018,5204],[-.0059,5189],[-.0093,5142],[-.0087,5162],[-.0074,5123],[-.0061,5127],[-.0078,5095],[-.0031,5095],[.0037,5080],[-.0055,5213],[-.0025,5172],[.0111,5290],[.005,5243],[.0103,5236],[.0104,5134],[.0061,5090],[.0131,5092],[.0059,5153],[.0136,5180],[.0125,5200]];
const SAF102_b = [[-.0029,5268],[-.0023,5268],[-.0033,5259],[-.001,5249],[-.0033,5240],[.0019,5221],[-.005,5211],[.0004,5193],[-.0096,5183],[-.0066,5174],[-.0039,5126],[.0027,5117],[-.0079,5107],[-.0035,5107],[.0042,5107],[.0073,5230],[.0115,5164],[.0094,5126],[.0098,5202],[-.0075,5225],[-.004,5195],[.0005,5165],[.003,5250],[-.0085,5125],[-.0015,5115],[.007,5165],[.0115,5120],[-.0015,5260]];
const SAF103_b = [[-.0052,5240],[-.0056,5174],[-.0008,5164],[-.0023,5155],[-.0012,5136],[-.0002,5136],[.0044,5126],[.0063,5211],[.0125,5230],[.0079,5174],[.0067,5252],[.0048,5174],[.0104,5126],[-.0065,5240],[-.0025,5205],[.002,5185],[-.0095,5170],[-.005,5120],[.0035,5235],[.0085,5245],[.013,5160],[-.0035,5262]];
const SAF104_b = [[.0025,5268],[.0013,5259],[-.0027,5249],[-.0025,5240],[.0006,5230],[-.0118,5202],[.0011,5193],[-.0037,5183],[.0011,5174],[-.0081,5164],[-.0069,5145],[.0027,5145],[.0006,5126],[.0061,5249],[.0073,5183],[.0113,5145],[.0079,5126],[-.0085,5205],[-.005,5250],[.0005,5205],[.003,5130],[-.007,5130],[.0015,5275],[.0065,5190],[.011,5110],[-.0025,5175]];
const SAF105_b = [[.0004,5259],[-.0037,5249],[-.0048,5240],[.0031,5230],[-.006,5211],[-.006,5202],[-.0077,5193],[-.0002,5183],[.0017,5174],[.0042,5164],[-.0102,5155],[-.0021,5155],[-.0087,5136],[-.0085,5117],[-.0008,5107],[.0104,5226],[.0084,5211],[.0121,5155],[-.0045,5228],[-.0085,5165],[.0015,5215],[-.0045,5150],[0,5100],[.0035,5155],[.009,5225],[.015,5190],[-.0065,5215]];
const SAF106_b = [[.0042,5230],[-.0029,5211],[.0029,5202],[-.0071,5193],[-.0107,5183],[-.0046,5183],[-.0083,5174],[-.001,5155],[.0004,5145],[-.0031,5117],[.0036,5098],[.0065,5238],[.0065,5170],[.0106,5170],[.0104,5136],[-.0065,5205],[.0005,5240],[-.002,5170],[-.0105,5155],[.002,5115],[.0025,5190],[.0075,5140],[.0135,5205],[-.006,5105]];
const SAF202_b = [[-.0054,5259],[.0042,5230],[-.0023,5221],[-.0073,5202],[-.0048,5193],[.0036,5193],[.0009,5183],[-.0041,5164],[.0036,5155],[-.0016,5145],[-.0056,5136],[-.0021,5126],[-.0066,5107],[.0015,5107],[.0084,5224],[.0094,5174],[.0113,5211],[.0073,5193],[-.0085,5185],[-.0035,5250],[.001,5145],[-.0005,5258],[.0035,5095],[-.009,5140],[.0095,5105],[.0125,5235],[.0035,5265]];
const SAF203_b = [[-.0012,5268],[-.0006,5259],[0,5249],[-.01,5211],[-.0016,5211],[.0042,5202],[-.0052,5164],[-.0029,5164],[-.0031,5155],[-.0096,5145],[-.0073,5136],[.004,5126],[.0017,5117],[.0015,5098],[.0052,5234],[.009,5155],[.0073,5107],[.0111,5117],[-.0055,5190],[-.0005,5225],[-.008,5210],[-.0035,5130],[.0015,5090],[-.011,5175],[.0065,5265],[.011,5150],[.003,5185]];
const SAF204_b = [[.0038,5268],[.0034,5259],[.0027,5249],[.0027,5240],[.0034,5230],[.0029,5221],[-.0087,5211],[.0011,5211],[.0009,5202],[-.0021,5193],[-.0077,5183],[-.0041,5174],[-.0102,5164],[.0044,5155],[-.0064,5136],[.0017,5136],[-.0025,5126],[-.0062,5117],[-.0006,5117],[.0021,5107],[-.0002,5098],[.0094,5253],[.0063,5215],[.0125,5193],[-.0105,5160],[-.0015,5165],[.0025,5210],[-.0055,5095],[-.002,5100],[.005,5250],[.0095,5155],[.014,5130],[.001,5175]];
const SAF205_b = [[-.0021,5259],[-.0027,5249],[-.006,5240],[-.0006,5230],[.004,5221],[-.0118,5202],[-.0058,5183],[-.0104,5174],[.001,5164],[-.0108,5145],[.0038,5136],[-.0052,5117],[-.0023,5117],[.0029,5107],[.0084,5193],[.0115,5183],[.0052,5136],[-.007,5255],[-.0025,5185],[.002,5150],[-.0075,5115],[-.0005,5130],[.003,5245],[.008,5210],[.012,5245],[-.005,5165]];
const SAF206_b = [[.0015,5240],[-.0073,5221],[-.0054,5211],[.0044,5174],[-.0096,5164],[-.0089,5155],[-.0079,5145],[.0017,5145],[-.0075,5126],[-.0031,5098],[.0023,5098],[.0052,5244],[.0102,5238],[.0063,5155],[.0129,5158],[.0129,5136],[.0094,5107],[-.0105,5190],[-.0045,5210],[0,5275],[-.0065,5145],[.001,5100],[.0035,5270],[.006,5120],[.0095,5195],[.015,5170]];

// marginal density curves, as percent of the tallest peak in that margin
const topX1 = [-4, -3, -2.5, -2, -1.5, -1, -.5, 0, .25, .47, .75, 1, 1.25, 1.5, 2, 2.5, 3, 3.5, 4, 5];
const topAHU_OAT = [0, .3, 1, 5, 17, 37, 60, 81, 93, 100, 92, 83, 72, 59, 31, 15, 5, 1.6, .5, 0];
const topAHU_SAT = [0, .2, 1, 4, 16, 40, 67, 84, 92, 97, 95, 87, 72, 56, 28, 13, 3, .6, .2, 0];
const rightY1 = [5384, 5316, 5300, 5282, 5267, 5254, 5241, 5226, 5214, 5204, 5195, 5188, 5177, 5162, 5151, 5143, 5133, 5121, 5107, 5099, 5090, 5076, 5030];
const rightAHU_OAT = [0, 0, 1, 3, 8, 15, 25, 34, 45, 59, 76, 87, 94, 100, 96, 85, 66, 45, 20, 11, 5, 1, 0];
const rightAHU_SAT = [.3, .3, 1, 3, 8, 15, 24, 36, 47, 60, 73, 82, 90, 96, 96, 88, 70, 48, 23, 13, 6, 1.5, 0];

const topX2 = [-4.3, -3, -2.5, -2, -1.5, -1, -.5, 0, .5, 1, 1.5, 2, 2.5, 3, 3.5, 4, 5.4];
const topSAT = [
  [0, .4, 2, 5, 14, 34, 58, 80, 96, 84, 60, 40, 20, 9, 3, 1, 0],
  [0, .8, 2, 6, 16, 35, 55, 76, 92, 86, 61, 38, 19, 9, 3, 1, 0],
  [0, .4, 1, 4, 13, 36, 58, 79, 97, 88, 58, 36, 18, 8, 3, 1, 0],
  [0, .5, 2, 5, 15, 36, 56, 78, 98, 84, 58, 38, 18, 8, 3, .8, 0],
  [0, .5, 2, 5, 15, 34, 58, 82, 99, 85, 58, 38, 19, 9, 3, 1, 0],
  [0, .4, 2, 5, 14, 33, 56, 80, 100, 86, 60, 39, 19, 8, 2, .7, 0],
  [0, .5, 2, 5, 15, 35, 58, 80, 98, 86, 58, 37, 18, 9, 3, 1, 0],
  [0, .5, 2, 5, 16, 36, 57, 78, 97, 84, 58, 40, 20, 9, 3, 1, 0],
  [0, .4, 2, 5, 14, 34, 57, 82, 100, 88, 60, 37, 17, 8, 3, 1, 0],
  [0, .5, 2, 6, 16, 35, 57, 78, 95, 85, 60, 39, 20, 9, 3, 1, 0]
];
const rightY2 = [5400, 5320, 5300, 5280, 5260, 5240, 5220, 5200, 5185, 5170, 5160, 5150, 5135, 5120, 5105, 5090, 5070, 5030];
const rightSAT = [
  [0, .5, 2, 6, 12, 24, 43, 63, 78, 89, 92, 90, 72, 46, 17, 4, 1, 0],
  [.2, 1, 3, 7, 13, 24, 38, 58, 78, 96, 100, 92, 66, 42, 17, 5, 1, 0],
  [0, .5, 2, 8, 17, 28, 43, 60, 75, 88, 92, 88, 70, 46, 18, 5, 1, 0],
  [0, .5, 2, 6, 14, 28, 47, 65, 78, 88, 90, 85, 66, 40, 15, 5, 1, 0],
  [0, .5, 2, 6, 13, 25, 43, 63, 80, 93, 94, 88, 68, 44, 17, 5, 1, 0],
  [0, .5, 2, 6, 13, 26, 44, 63, 78, 90, 93, 90, 70, 44, 16, 4, 1, 0],
  [0, .5, 2, 6, 13, 25, 42, 65, 83, 97, 97, 87, 64, 42, 18, 5, 1, 0],
  [0, .5, 2, 6, 12, 24, 40, 58, 73, 87, 95, 97, 76, 47, 17, 4, 1, 0],
  [0, .5, 2, 7, 14, 25, 41, 61, 78, 92, 95, 90, 68, 43, 18, 5, 1, 0],
  [0, .5, 2, 5, 11, 23, 42, 62, 78, 90, 95, 92, 74, 50, 22, 7, 1, 0]
];

const topX3 = [-4.5, -3, -2.5, -2, -1.5, -1, -.5, 0, .5, 1, 1.5, 2, 2.5, 3, 3.5, 4, 7.2];
const topZoneT = [
  [0, .4, 2, 5, 13, 28, 48, 74, 95, 84, 59, 39, 19, 8, 3, .8, 0],
  [0, .3, 1, 5, 14, 27, 51, 80, 100, 85, 56, 36, 17, 7, 2, .8, 0],
  [0, .4, 2, 6, 15, 28, 49, 75, 97, 86, 58, 36, 17, 7, 2, .8, 0],
  [0, .4, 2, 5, 14, 30, 50, 76, 96, 85, 60, 38, 18, 7, 2.5, .8, 0],
  [0, .4, 2, 5, 14, 28, 50, 78, 98, 86, 58, 38, 18, 8, 2.5, .8, 0],
  [0, .3, 2, 5, 13, 27, 48, 76, 99, 88, 60, 38, 18, 7, 2, .8, 0],
  [0, .4, 2, 6, 14, 28, 49, 77, 97, 85, 59, 39, 18, 8, 3, .8, 0],
  [0, .4, 2, 5, 14, 28, 47, 74, 98, 90, 61, 38, 17, 7, 2, .8, 0],
  [0, .4, 2, 5, 14, 29, 50, 77, 99, 86, 58, 37, 18, 7, 2.5, .8, 0],
  [0, .4, 2, 5, 13, 27, 48, 75, 96, 86, 60, 40, 19, 8, 2.5, .8, 0]
];
const rightY3 = [5400, 5320, 5300, 5280, 5260, 5240, 5220, 5200, 5185, 5170, 5160, 5150, 5135, 5120, 5105, 5090, 5070, 5030];
const rightZoneT = [
  [0, .5, 2, 6, 14, 26, 43, 63, 78, 88, 90, 86, 70, 45, 17, 4, 1, 0],
  [.3, 1, 4, 8, 14, 24, 39, 59, 79, 96, 100, 90, 64, 41, 17, 5, 1, 0],
  [0, .5, 2, 8, 18, 31, 46, 60, 74, 87, 90, 87, 68, 45, 18, 5, 1, 0],
  [0, .5, 2, 6, 15, 30, 50, 66, 77, 86, 90, 85, 64, 39, 15, 5, 1, 0],
  [0, .5, 2, 6, 14, 26, 44, 64, 80, 92, 94, 88, 67, 44, 17, 5, 1, 0],
  [0, .5, 2, 6, 14, 26, 44, 62, 78, 90, 93, 90, 70, 44, 16, 4, 1, 0],
  [0, .5, 2, 6, 14, 26, 43, 66, 84, 97, 98, 87, 63, 42, 18, 5, 1, 0],
  [0, .5, 2, 6, 13, 25, 41, 58, 72, 86, 94, 97, 78, 47, 17, 4, 1, 0],
  [0, .5, 2, 7, 15, 26, 42, 61, 78, 92, 95, 89, 67, 43, 18, 5, 1, 0],
  [0, .5, 2, 5, 12, 24, 42, 62, 78, 90, 95, 91, 73, 50, 23, 8, 1, 0]
];

const topX4 = [-.0215, -.015, -.0125, -.01, -.0075, -.005, -.0025, 0, .0025, .005, .0075, .01, .0125, .015, .0175, .02, .0265];
const topSAF = [
  [0, .4, 1, 5, 18, 45, 71, 92, 97, 83, 52, 27, 12, 5, 2, .6, 0],
  [0, .5, 1, 4, 16, 42, 68, 90, 99, 86, 55, 28, 13, 6, 2, .7, 0],
  [0, .4, 1, 4, 17, 44, 72, 92, 98, 86, 53, 25, 11, 5, 2, .6, 0],
  [0, .4, 1, 4, 18, 45, 71, 94, 98, 84, 50, 25, 12, 5, 2, .6, 0],
  [0, .4, 1, 4, 17, 45, 73, 96, 99, 84, 52, 26, 11, 5, 2, .6, 0],
  [0, .4, 1, 4, 17, 43, 71, 95, 100, 85, 53, 26, 12, 5, 2, .5, 0],
  [0, .4, 1, 4, 18, 45, 73, 95, 99, 85, 52, 26, 12, 5, 2, .6, 0],
  [0, .4, 1, 4, 18, 46, 70, 92, 98, 84, 54, 27, 12, 5, 2, .6, 0],
  [0, .4, 1, 4, 17, 44, 72, 94, 100, 87, 52, 26, 12, 5, 2, .6, 0],
  [0, .4, 1, 4, 18, 45, 71, 92, 97, 85, 53, 27, 12, 5, 2, .6, 0]
];
const rightY4 = [5400, 5320, 5300, 5280, 5260, 5240, 5220, 5200, 5185, 5170, 5160, 5150, 5135, 5120, 5105, 5090, 5070, 5030];
const rightSAF = [
  [0, .5, 2, 6, 12, 23, 42, 62, 77, 89, 93, 90, 72, 46, 17, 4, 1, 0],
  [.2, 1, 3, 7, 12, 23, 38, 57, 77, 95, 100, 93, 66, 43, 17, 5, 1, 0],
  [0, .5, 2, 8, 16, 27, 42, 60, 75, 88, 93, 88, 70, 46, 18, 5, 1, 0],
  [0, .5, 2, 6, 14, 27, 47, 66, 78, 88, 91, 85, 66, 40, 15, 5, 1, 0],
  [0, .5, 2, 6, 13, 24, 43, 63, 80, 93, 95, 88, 68, 44, 17, 5, 1, 0],
  [0, .5, 2, 6, 13, 25, 44, 63, 78, 90, 94, 90, 70, 44, 16, 4, 1, 0],
  [0, .5, 2, 6, 13, 25, 42, 65, 83, 97, 98, 87, 64, 42, 18, 5, 1, 0],
  [0, .5, 2, 6, 12, 23, 40, 58, 73, 87, 95, 98, 77, 47, 17, 4, 1, 0],
  [0, .5, 2, 7, 14, 25, 41, 61, 78, 92, 96, 90, 68, 43, 18, 5, 1, 0],
  [0, .5, 2, 5, 11, 22, 41, 62, 78, 90, 96, 92, 75, 51, 23, 7, 1, 0]
];

// layout of the four joint plots, page pixels
const FONT = '"DejaVu Sans"';
const DARK = '#262626';
const panels = [
  {
    cell: 0, left: 292, right: 1133, top: 218, bottom: 1143, baseline: 150, spine: 1202, yTitle: 47,
    xMin: -4.147, xMax: 5.345, yMin: 0.05024, yMax: 0.053986, xTicks: xTicks1, xLabels: xLabels1,
    yTicks: yTicks.slice(0, 7), xTitle: 'SensorErrAHU_OAT_SAT/', math: true, titleY: 1267,
    names: ['AHU_OAT', 'AHU_SAT'],
    layers: [[AHU_OAT_front, 0], [AHU_SAT, 1], [AHU_OAT_back, 0], [AHU_SAT_under, 1], [AHU_OAT_under, 0], [AHU_OAT_hidden, 0]],
    topX: topX1, topD: [topAHU_OAT, topAHU_SAT], rightY: rightY1, rightD: [rightAHU_OAT, rightAHU_SAT],
    legend: { left: 708, right: 1107, top: 242, bottom: 476, cx: 906, ty: 284, y0: 356, step: 73, mx: 775, tx: 864 }
  },
  {
    cell: 1580, left: 1901, right: 2742, top: 218, bottom: 1143, baseline: 150, spine: 2811, yTitle: 1654,
    xMin: -4.61, xMax: 5.9, yMin: 0.05015, yMax: 0.0541, xTicks: xTicks2, xLabels: xLabels2,
    yTicks: yTicks, xTitle: 'SensorErr_VAVSAT/', math: true, titleY: 1267,
    names: ['SAT102', 'SAT103', 'SAT104', 'SAT105', 'SAT106', 'SAT202', 'SAT203', 'SAT204', 'SAT205', 'SAT206'],
    layers: [[SAT206, 9], [SAT205, 8], [SAT204, 7], [SAT203, 6], [SAT202, 5], [SAT106, 4], [SAT105, 3], [SAT104, 2], [SAT103, 1], [SAT102, 0],
      [SAT206_b, 9], [SAT205_b, 8], [SAT204_b, 7], [SAT203_b, 6], [SAT202_b, 5], [SAT106_b, 4], [SAT105_b, 3], [SAT104_b, 2], [SAT103_b, 1], [SAT102_b, 0]],
    topX: topX2, topD: topSAT, rightY: rightY2, rightD: rightSAT,
    legend: { left: 2358, right: 2716, top: 242, bottom: 1042, cx: 2537, ty: 284, y0: 356, step: 71.4, mx: 2426, tx: 2515 }
  },
  {
    cell: 0, left: 292, right: 1133, top: 1686, bottom: 2614, baseline: 1618, spine: 1202, yTitle: 47,
    xMin: -4.53, xMax: 7.29, yMin: 0.05015, yMax: 0.0541, xTicks: xTicks3, xLabels: xLabels3,
    yTicks: yTicks, xTitle: 'SensorErr_ZoneT/', math: true, titleY: 2738,
    names: ['ZoneT102', 'ZoneT103', 'ZoneT104', 'ZoneT105', 'ZoneT106', 'ZoneT202', 'ZoneT203', 'ZoneT204', 'ZoneT205', 'ZoneT206'],
    layers: [[ZoneT206, 9], [ZoneT205, 8], [ZoneT204, 7], [ZoneT203, 6], [ZoneT202, 5], [ZoneT106, 4], [ZoneT105, 3], [ZoneT104, 2], [ZoneT103, 1], [ZoneT102, 0],
      [ZoneT206_b, 9], [ZoneT205_b, 8], [ZoneT204_b, 7], [ZoneT203_b, 6], [ZoneT202_b, 5], [ZoneT106_b, 4], [ZoneT105_b, 3], [ZoneT104_b, 2], [ZoneT103_b, 1], [ZoneT102_b, 0]],
    topX: topX3, topD: topZoneT, rightY: rightY3, rightD: rightZoneT,
    legend: { left: 688, right: 1107, top: 1711, bottom: 2513, cx: 896, ty: 1753, y0: 1825, step: 71.5, mx: 755, tx: 844 }
  },
  {
    cell: 1580, left: 1905, right: 2738, top: 1686, bottom: 2620, baseline: 1618, spine: 2806, yTitle: 1660,
    xMin: -0.02162, xMax: 0.02695, yMin: 0.05015, yMax: 0.0541, xTicks: xTicks4, xLabels: xLabels4,
    yTicks: yTicks, xTitle: 'SensorErr_VAVSAF/m3/s', math: false, titleY: 2739,
    names: ['SAF102', 'SAF103', 'SAF104', 'SAF105', 'SAF106', 'SAF202', 'SAF203', 'SAF204', 'SAF205', 'SAF206'],
    layers: [[SAF206, 9], [SAF205, 8], [SAF204, 7], [SAF203, 6], [SAF202, 5], [SAF106, 4], [SAF105, 3], [SAF104, 2], [SAF103, 1], [SAF102, 0],
      [SAF206_b, 9], [SAF205_b, 8], [SAF204_b, 7], [SAF203_b, 6], [SAF202_b, 5], [SAF106_b, 4], [SAF105_b, 3], [SAF104_b, 2], [SAF103_b, 1], [SAF102_b, 0]],
    topX: topX4, topD: topSAF, rightY: rightY4, rightD: rightSAF,
    legend: { left: 2357, right: 2712, top: 1711, bottom: 2508, cx: 2533, ty: 1753, y0: 1825, step: 71.2, mx: 2423, tx: 2511 }
  }
];

function addCanvas(left, top, width, height) {
  const c = document.createElement('canvas');
  c.width = width;
  c.height = height;
  c.style.left = left + 'px';
  c.style.top = top + 'px';
  c.style.width = width + 'px';
  c.style.height = height + 'px';
  document.body.appendChild(c);
  return c;
}

function withAlpha(hex, a) {
  const n = parseInt(hex.slice(1), 16);
  return `rgba(${n >> 16},${(n >> 8) & 255},${n & 255},${a})`;
}

// fixed size for an axis so that the plot area lands exactly where asked
function fixAxis(size, vals) {
  return {
    afterBuildTicks: a => { if (vals) a.ticks = vals.map(v => ({ value: v })); },
    afterFit: a => {
      if (a.isHorizontal()) a.height = size; else a.width = size;
      a.paddingLeft = a.paddingRight = a.paddingTop = a.paddingBottom = 0;
    }
  };
}

const spineGrid = { display: true, drawOnChartArea: false, drawTicks: true, tickLength: 13, tickWidth: 3.2, tickColor: DARK };
const spineBorder = { display: true, color: DARK, width: 3.2 };

function drawLegend(chart, p, ox, oy) {
  const ctx = chart.ctx;
  const l = p.legend;
  ctx.save();
  ctx.beginPath();
  ctx.roundRect(l.left - ox, l.top - oy, l.right - l.left, l.bottom - l.top, 8);
  ctx.fillStyle = 'rgba(255,255,255,0.8)';
  ctx.fill();
  ctx.strokeStyle = 'rgba(204,204,204,0.8)';
  ctx.lineWidth = 3.5;
  ctx.stroke();
  ctx.fillStyle = DARK;
  ctx.font = `48px ${FONT}`;
  ctx.textBaseline = 'middle';
  ctx.textAlign = 'center';
  ctx.fillText('sensor_item', l.cx - ox, l.ty + 4 - oy);
  ctx.textAlign = 'left';
  p.names.forEach((name, i) => {
    const y = l.y0 + i * l.step - oy;
    ctx.beginPath();
    ctx.arc(l.mx - ox, y, 17, 0, Math.PI * 2);
    ctx.fillStyle = colors[i];
    ctx.fill();
    ctx.fillStyle = DARK;
    ctx.fillText(name, l.tx - ox, y + 4);
  });
  ctx.restore();
}

// x title has a small mathtext part in most panels, so it is drawn by hand
function drawXTitle(chart, p, ox, oy) {
  const ctx = chart.ctx;
  const cx = (p.left + p.right) / 2 - ox;
  const y = p.titleY + 3 - oy;
  ctx.save();
  ctx.fillStyle = DARK;
  ctx.textBaseline = 'middle';
  ctx.textAlign = 'left';
  ctx.font = `48.5px ${FONT}`;
  const w1 = ctx.measureText(p.xTitle).width;
  let w2 = 0, w3 = 0;
  if (p.math) {
    ctx.font = `italic 34px ${FONT}`;
    w2 = ctx.measureText('o').width + 5;
    ctx.font = `italic 48.5px ${FONT}`;
    w3 = ctx.measureText('C').width;
  }
  const x = cx - (w1 + w2 + w3) / 2;
  ctx.font = `48.5px ${FONT}`;
  ctx.fillText(p.xTitle, x, y);
  if (p.math) {
    ctx.font = `italic 34px ${FONT}`;
    ctx.fillText('o', x + w1 + 2, y - 18);
    ctx.font = `italic 48.5px ${FONT}`;
    ctx.fillText('C', x + w1 + w2, y);
  }
  ctx.restore();
}

function jointChart(p) {
  const ox = p.cell, oy = p.top - 30;
  // the x axis stops about 14px short of the canvas edge, so leave that much spare
  const canvas = addCanvas(ox, oy, p.right - ox + 14, p.bottom + 170 - oy);
  new Chart(canvas, {
    type: 'scatter',
    data: {
      datasets: p.layers.map(([pts, c]) => ({
        label: p.names[c],
        data: pts.map(q => ({ x: q[0], y: q[1] / 1e5 })),
        backgroundColor: colors[c],
        pointRadius: 14,
        pointBorderColor: '#fff',
        pointBorderWidth: 2
      }))
    },
    options: {
      responsive: false,
      animation: false,
      events: [],
      layout: { padding: { top: 30, right: 0, left: 0, bottom: 0 } },
      plugins: { legend: { display: false }, tooltip: { enabled: false } },
      scales: {
        x: {
          type: 'linear', min: p.xMin, max: p.xMax,
          ...fixAxis(170, p.xTicks),
          grid: spineGrid, border: spineBorder,
          ticks: {
            autoSkip: false, maxRotation: 0, padding: 19, color: DARK,
            font: { family: FONT, size: 48 },
            callback: (v, i) => p.xLabels[i]
          }
        },
        y: {
          type: 'linear', min: p.yMin, max: p.yMax,
          ...fixAxis(p.left - ox, p.yTicks),
          grid: spineGrid, border: spineBorder,
          title: {
            display: true, text: 'FanEnergy/GBTU', color: DARK,
            font: { family: FONT, size: 48 },
            padding: { top: p.yTitle - ox - 24, bottom: 0 }
          },
          ticks: {
            autoSkip: false, padding: 24, labelOffset: 7, color: DARK,
            font: { family: FONT, size: 48 },
            callback: v => v.toFixed(4)
          }
        }
      }
    },
    plugins: [{
      id: 'panelExtras',
      afterDraw: c => {
        drawLegend(c, p, ox, oy);
        drawXTitle(c, p, ox, oy);
      }
    }]
  });
}

// the library paints dataset 0 last, so blue ends up on top as in the picture
function kdeSets(curves, makePoint) {
  return curves.map((d, i) => ({
    data: d.map(makePoint),
    borderColor: colors[i],
    backgroundColor: withAlpha(colors[i], 0.25),
    borderWidth: 4.5,
    pointRadius: 0,
    fill: 'origin',
    cubicInterpolationMode: 'monotone'
  }));
}

function topMargin(p) {
  const top = p.baseline - 131;
  const canvas = addCanvas(p.left - 4, top, p.right - p.left + 8, p.baseline - top + 16);
  new Chart(canvas, {
    type: 'line',
    data: { datasets: kdeSets(p.topD, (v, i) => ({ x: p.topX[i], y: v })) },
    options: {
      responsive: false,
      animation: false,
      events: [],
      layout: { padding: { left: 4, right: 4, top: 0, bottom: 0 } },
      plugins: { legend: { display: false }, tooltip: { enabled: false } },
      scales: {
        x: {
          type: 'linear', min: p.xMin, max: p.xMax,
          ...fixAxis(16, p.xTicks),
          grid: spineGrid, border: spineBorder,
          ticks: { display: false, autoSkip: false }
        },
        y: { type: 'linear', display: false, min: 0, max: 105 }
      }
    }
  });
}

function rightMargin(p) {
  const canvas = addCanvas(p.spine - 16, p.top - 4, 16 + 114, p.bottom - p.top + 8);
  new Chart(canvas, {
    type: 'line',
    data: { datasets: kdeSets(p.rightD, (v, i) => ({ x: v, y: p.rightY[i] / 1e5 })) },
    options: {
      indexAxis: 'y',
      responsive: false,
      animation: false,
      events: [],
      layout: { padding: { left: 0, right: 0, top: 4, bottom: 4 } },
      plugins: { legend: { display: false }, tooltip: { enabled: false } },
      scales: {
        x: { type: 'linear', display: false, min: 0, max: 105 },
        y: {
          type: 'linear', min: p.yMin, max: p.yMax,
          ...fixAxis(16, p.yTicks),
          grid: spineGrid, border: spineBorder,
          ticks: { display: false, autoSkip: false }
        }
      }
    }
  });
}

panels.forEach(p => {
  jointChart(p);
  topMargin(p);
  rightMargin(p);
});
</script>
</body>
</html>
